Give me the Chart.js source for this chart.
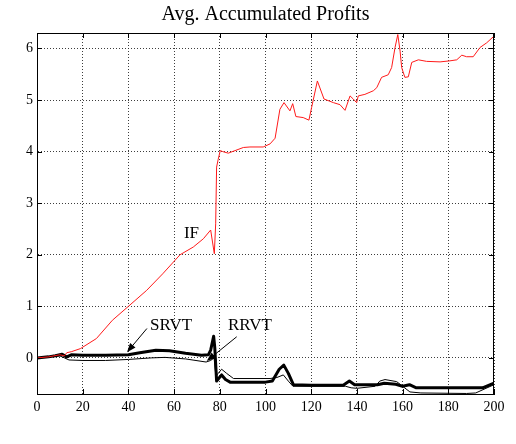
<!DOCTYPE html>
<html>
<head>
<meta charset="utf-8">
<script src="https://cdn.jsdelivr.net/npm/chart.js@4/dist/chart.umd.min.js"></script>
<style>
  html, body { margin: 0; padding: 0; background: #fff; }
</style>
</head>
<body>
<canvas id="chart" width="516" height="444"></canvas>
<script>
// ---- data ----
const xTicks = [0, 20, 40, 60, 80, 100, 120, 140, 160, 180, 200];
const yTicks = [0, 1, 2, 3, 4, 5, 6];

// IF (red)
const ifX = [0, 5, 10, 12, 13, 15, 19, 26, 33, 40, 48, 55, 62.6, 68.4, 72.8, 76, 77.6, 78.2, 78.6, 79.3, 80.2,
  81.3, 83.7, 90.3, 93.2, 99, 102, 104.2, 106.3, 108.1, 110.7, 111.9, 113.3, 116.5, 119, 120.2, 122.7, 125.6,
  129.7, 132.6, 134.8, 137, 138.4, 139.9, 140.6, 143.5, 147.2, 148.7, 150.8, 153.7, 155.2, 156.7, 157.9, 158.9,
  159.6, 161, 162.5, 164, 166.9, 170.5, 176.4, 180.7, 183.7, 185.9, 188, 190.9, 193.9, 196.8, 200];
const ifY = [0, 0.02, 0.06, 0.04, 0.1, 0.12, 0.18, 0.375, 0.73, 1.0, 1.31, 1.63, 2.0, 2.15, 2.31, 2.48, 2.02, 2.6, 3.7, 3.85, 4.02,
  4.0, 3.97, 4.08, 4.09, 4.09, 4.15, 4.26, 4.82, 4.95, 4.79, 4.93, 4.68, 4.66, 4.61, 4.86, 5.37, 5.02,
  4.95, 4.91, 4.80, 5.08, 5.02, 4.95, 5.08, 5.11, 5.18, 5.24, 5.44, 5.49, 5.63, 6.02, 6.27, 5.95,
  5.63, 5.44, 5.45, 5.73, 5.78, 5.75, 5.74, 5.76, 5.78, 5.87, 5.84, 5.84, 6.02, 6.11, 6.24];

// SRVT (thick black)
const srvtX = [0, 5, 8, 11, 13, 15, 20, 30, 40, 45, 52, 58, 65, 72, 75, 76, 77.3, 77.8, 78.6, 79.5, 80.8, 82.5, 84.5,
  100, 103, 106, 108, 110, 112.2, 120, 134, 136.7, 139, 149, 152, 157, 160, 163, 166, 195, 200];
const srvtY = [0, 0.02, 0.04, 0.07, 0.02, 0.06, 0.05, 0.05, 0.06, 0.1, 0.15, 0.14, 0.09, 0.05, 0.06, 0.15, 0.42, 0.2, -0.45, -0.4, -0.33, -0.42, -0.47,
  -0.47, -0.45, -0.22, -0.14, -0.3, -0.52, -0.53, -0.53, -0.45, -0.52, -0.52, -0.49, -0.51, -0.55, -0.52, -0.58, -0.58, -0.49];

// RRVT (thin black)
const rrvtX = [0, 5, 10, 12, 14, 20, 30, 40, 50, 56, 65, 74, 76, 77.5, 78.3, 79.3, 80.8, 83, 86, 102, 105, 107.8, 110, 112,
  135, 137.5, 140, 148, 150, 152.3, 157.4, 160, 163.2, 168, 188, 192, 200];
const rrvtY = [0, 0.02, 0.04, 0.0, -0.04, -0.05, -0.05, -0.03, 0.0, 0.01, -0.02, -0.08, -0.05, 0.0, -0.35, -0.3, -0.22, -0.3, -0.4, -0.4, -0.38, -0.33, -0.45, -0.55,
  -0.55, -0.58, -0.59, -0.55, -0.45, -0.42, -0.46, -0.55, -0.66, -0.68, -0.69, -0.68, -0.52];

// annotations, in data units
const notes = [
  { text: 'IF',   x: 64.3, y: 2.32 },
  { text: 'SRVT', x: 49.5, y: 0.54, from: [48.1, 0.57], to: [39.4, 0.11] },
  { text: 'RRVT', x: 83.6, y: 0.54, from: [87.4, 0.41], to: [74.3, -0.06] },
];

const SERIF = '"Liberation Serif", "DejaVu Serif", serif';
const pts = (xs, ys) => xs.map((x, i) => ({ x, y: ys[i] }));

function arrow(ctx, x1, y1, x2, y2) {
  const a = Math.atan2(y2 - y1, x2 - x1);
  const len = 9, w = 3.5;
  ctx.beginPath();
  ctx.moveTo(x1, y1);
  ctx.lineTo(x2 - Math.cos(a) * len * 0.8, y2 - Math.sin(a) * len * 0.8);
  ctx.stroke();
  ctx.beginPath();
  ctx.moveTo(x2, y2);
  ctx.lineTo(x2 - Math.cos(a) * len - Math.sin(a) * w, y2 - Math.sin(a) * len + Math.cos(a) * w);
  ctx.lineTo(x2 - Math.cos(a) * len + Math.sin(a) * w, y2 - Math.sin(a) * len - Math.cos(a) * w);
  ctx.closePath();
  ctx.fill();
}

// box, inward ticks, title and text labels
const decor = {
  id: 'decor',
  afterDraw(chart) {
    const { ctx, chartArea: a, scales: { x, y } } = chart;
    ctx.save();
    ctx.strokeStyle = '#000';
    ctx.fillStyle = '#000';
    ctx.lineWidth = 1;
    ctx.strokeRect(a.left + 0.5, a.top + 0.5, a.right - a.left - 1, a.bottom - a.top);

    ctx.beginPath();
    xTicks.forEach(v => {
      const px = Math.round(x.getPixelForValue(v)) + 0.5;
      ctx.moveTo(px, a.bottom); ctx.lineTo(px, a.bottom - 5);
      ctx.moveTo(px, a.top); ctx.lineTo(px, a.top + 5);
    });
    yTicks.forEach(v => {
      const py = Math.round(y.getPixelForValue(v)) + 0.5;
      ctx.moveTo(a.left, py); ctx.lineTo(a.left + 5, py);
      ctx.moveTo(a.right, py); ctx.lineTo(a.right - 5, py);
    });
    ctx.stroke();

    ctx.font = '20px ' + SERIF;
    ctx.textAlign = 'center';
    ctx.textBaseline = 'alphabetic';
    ctx.fillText('Avg. Accumulated Profits', (a.left + a.right) / 2, 20);

    ctx.font = '17px ' + SERIF;
    ctx.textAlign = 'left';
    notes.forEach(n => {
      ctx.fillText(n.text, x.getPixelForValue(n.x), y.getPixelForValue(n.y));
      if (n.from) {
        arrow(ctx,
          x.getPixelForValue(n.from[0]), y.getPixelForValue(n.from[1]),
          x.getPixelForValue(n.to[0]), y.getPixelForValue(n.to[1]));
      }
    });
    ctx.restore();
  }
};

const gridOpts = { color: 'rgba(40,40,40,0.9)', drawTicks: false, lineWidth: 1 };
const tickFont = { family: SERIF, size: 14 };

new Chart(document.getElementById('chart'), {
  type: 'line',
  data: {
    datasets: [
      { label: 'IF',   data: pts(ifX, ifY),     borderColor: '#ff1a1a', borderWidth: 1 },
      { label: 'RRVT', data: pts(rrvtX, rrvtY), borderColor: '#000',    borderWidth: 1 },
      { label: 'SRVT', data: pts(srvtX, srvtY), borderColor: '#000',    borderWidth: 3, borderJoinStyle: 'round' },
    ]
  },
  options: {
    responsive: false,
    animation: false,
    events: [],
    layout: { padding: { top: 33, right: 22, left: 0, bottom: 0 } },
    elements: { point: { radius: 0 }, line: { tension: 0 } },
    plugins: { legend: { display: false }, title: { display: false }, tooltip: { enabled: false } },
    scales: {
      x: {
        type: 'linear', min: 0, max: 200,
        afterBuildTicks: s => { s.ticks = xTicks.map(v => ({ value: v })); },
        afterFit: s => { s.height = 50; },
        ticks: { color: '#000', font: tickFont, padding: 5, maxRotation: 0 },
        grid: gridOpts,
        border: { display: true, color: '#000', dash: [1, 2] }
      },
      y: {
        type: 'linear', min: -0.7, max: 6.3,
        afterBuildTicks: s => { s.ticks = yTicks.map(v => ({ value: v })); },
        afterFit: s => { s.width = 37; },
        ticks: { color: '#000', font: tickFont, padding: 4 },
        grid: gridOpts,
        border: { display: true, color: '#000', dash: [1, 2] }
      }
    }
  },
  plugins: [decor]
});
</script>
</body>
</html>
